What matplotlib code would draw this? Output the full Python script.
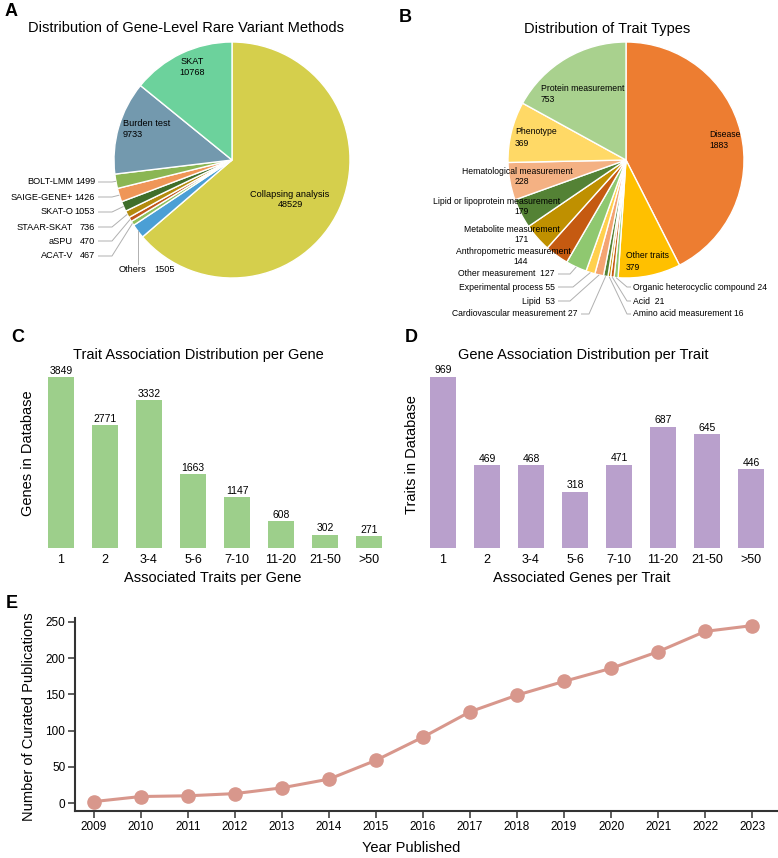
import numpy as np
import matplotlib
matplotlib.use("Agg")
import matplotlib.pyplot as plt

plt.rcParams['font.family'] = ['Liberation Sans', 'DejaVu Sans']

# ---- data ----
method_names = ["Collapsing analysis", "Others", "ACAT-V", "aSPU", "STAAR-SKAT",
                "SKAT-O", "SAIGE-GENE+", "BOLT-LMM", "Burden test", "SKAT"]
method_counts = [48529, 1505, 467, 470, 736, 1053, 1426, 1499, 9733, 10768]

trait_names = ["Disease", "Other traits", "Organic heterocyclic compound", "Acid",
               "Amino acid measurement", "Cardiovascular measurement", "Lipid",
               "Experimental process", "Other measurement", "Anthropometric measurement",
               "Metabolite measurement", "Lipid or lipoprotein measurement",
               "Hematological measurement", "Phenotype", "Protein measurement"]
trait_counts = [1883, 379, 24, 21, 16, 27, 53, 55, 127, 144, 171, 179, 228, 369, 753]

bin_labels = ["1", "2", "3-4", "5-6", "7-10", "11-20", "21-50", ">50"]
genes_per_bin = [3849, 2771, 3332, 1663, 1147, 608, 302, 271]
traits_per_bin = [969, 469, 468, 318, 471, 687, 645, 446]

years = [2009, 2010, 2011, 2012, 2013, 2014, 2015, 2016, 2017, 2018, 2019, 2020, 2021, 2022, 2023]
publications = [2, 9, 10, 13, 21, 33, 59, 91, 126, 149, 168, 186, 209, 237, 245]

# ---- styles ----
method_colors = ['#d5cf4c', '#4b9fd5', '#8fbf5c', '#c0561a', '#b38b0e',
                 '#3f6e2b', '#ef9658', '#8bb653', '#7399ae', '#6cd29c']
trait_colors = ['#ed7d31', '#ffc000', '#8fc870', '#c55a11', '#bf9000',
                '#548235', '#f4a472', '#ffd04d', '#8fc870', '#c55a11',
                '#bf9000', '#548235', '#f4b183', '#ffd966', '#a9d18e']
gene_color = '#9dcf8b'
trait_bar_color = '#b9a0cc'
line_color = '#d8978c'
leader_color = '#b0b0b0'

W, H = 778, 858
fig = plt.figure(figsize=(W / 100, H / 100), dpi=100)


def px_axes(x0, y0, x1, y1):
    # box in pixels, origin top-left
    return fig.add_axes([x0 / W, 1 - y1 / H, (x1 - x0) / W, (y1 - y0) / H])


def fig_text(x, y, s, **kw):
    fig.text(x / W, 1 - y / H, s, **kw)


def draw_pie(box, center, radius, counts, colors):
    x0, y0, x1, y1 = box
    cx, cy = center
    ax = px_axes(*box)
    wedges, _ = ax.pie(counts, colors=colors, startangle=90, counterclock=False,
                       wedgeprops=dict(edgecolor='white', linewidth=1))
    ax.set_xlim((x0 - cx) / radius, (x1 - cx) / radius)
    ax.set_ylim((cy - y1) / radius, (cy - y0) / radius)
    ax.set_aspect('auto')
    ax.axis('off')

    def to_data(px, py):
        return (px - cx) / radius, (cy - py) / radius
    return ax, wedges, to_data


def edge_point(w):
    t = np.deg2rad((w.theta1 + w.theta2) / 2)
    return np.cos(t) * w.r, np.sin(t) * w.r


def leader(ax, to_data, start_px, knee_px, w):
    sx, sy = to_data(*start_px)
    kx, ky = to_data(*knee_px)
    ex, ey = edge_point(w)
    ax.plot([sx, kx, ex], [sy, ky, ey], color=leader_color, lw=0.7, solid_capstyle='butt')


# ---------------- panel A ----------------
axA, wA, pA = draw_pie((0, 35, 390, 320), (232, 160), 118, method_counts, method_colors)
fsA = 6.6
axA.text(*pA(192, 67), f"{method_names[9]}\n{method_counts[9]}", ha='center', va='center', fontsize=fsA)
axA.text(*pA(123, 129), f"{method_names[8]}\n{method_counts[8]}", ha='left', va='center', fontsize=fsA)
axA.text(*pA(290, 199.5), f"{method_names[0]}\n{method_counts[0]}", ha='center', va='center', fontsize=fsA)

rows_A = [(7, 182), (6, 197), (5, 212), (4, 227), (3, 241), (2, 256)]
for i, y in rows_A:
    axA.text(*pA(73, y), method_names[i], ha='right', va='center', fontsize=fsA)
    axA.text(*pA(95, y), str(method_counts[i]), ha='right', va='center', fontsize=fsA)
    leader(axA, pA, (98, y), (112, y), wA[i])
# Others, below the pie
axA.text(*pA(146, 270), method_names[1], ha='right', va='center', fontsize=fsA)
axA.text(*pA(154, 270), str(method_counts[1]), ha='left', va='center', fontsize=fsA)
ex, ey = edge_point(wA[1])
axA.plot([ex, ex], [pA(0, 264)[1], ey], color=leader_color, lw=0.7)

fig_text(186, 28, "Distribution of Gene-Level Rare Variant Methods", ha='center', va='center', fontsize=10.5)
fig_text(11, 12, "A", ha='center', va='center', fontsize=13, fontweight='bold')

# ---------------- panel B ----------------
axB, wB, pB = draw_pie((390, 35, 778, 320), (626, 160), 118, trait_counts, trait_colors)
fsB = 6.2
# left aligned inner labels
for i, (x, y) in [(14, (541, 94)), (0, (709, 140)), (13, (515, 137.5)), (1, (626, 261.5))]:
    axB.text(*pB(x, y), f"{trait_names[i]}\n{trait_counts[i]}", ha='left', va='center',
             fontsize=fsB, linespacing=1.35)
# name / number placed separately
for i, name_xy, num_xy in [(12, (517, 172), (522, 182)), (11, (497, 202), (522, 211.5)),
                           (10, (512, 229), (522, 239)), (9, (513, 251), (521, 261))]:
    axB.text(*pB(*name_xy), trait_names[i], ha='center', va='center', fontsize=fsB)
    axB.text(*pB(*num_xy), str(trait_counts[i]), ha='center', va='center', fontsize=fsB)

gaps = {8: "  ", 6: "  ", 3: "  "}
rows_B_left = [(8, 555, 274, 570), (7, 555, 287, 573), (6, 555, 301, 570), (5, 578, 314, 589)]
for i, x, y, knee in rows_B_left:
    axB.text(*pB(x, y), f"{trait_names[i]}{gaps.get(i, ' ')}{trait_counts[i]}",
             ha='right', va='center', fontsize=fsB)
    leader(axB, pB, (x + 3, y), (knee, y), wB[i])
for i, y in [(2, 287), (3, 301), (4, 314)]:
    axB.text(*pB(633, y), f"{trait_names[i]}{gaps.get(i, ' ')}{trait_counts[i]}",
             ha='left', va='center', fontsize=fsB)
    leader(axB, pB, (631, y), (627, y), wB[i])

fig_text(607, 29, "Distribution of Trait Types", ha='center', va='center', fontsize=10.5)
fig_text(405, 17, "B", ha='center', va='center', fontsize=13, fontweight='bold')


# ---------------- panels C and D ----------------
def draw_bars(box, values, color, ymax):
    ax = px_axes(*box)
    x = np.arange(len(values))
    bars = ax.bar(x, values, width=0.6, color=color)
    ax.set_xlim(-0.5, len(values) - 0.5)
    ax.set_ylim(0, ymax)
    ax.set_xticks(x, bin_labels)
    ax.tick_params(axis='x', length=0, pad=4, labelsize=9)
    ax.set_yticks([])
    for s in ax.spines.values():
        s.set_visible(False)
    ax.bar_label(bars, padding=1, fontsize=7.5)
    return ax


draw_bars((39, 366, 391, 548), genes_per_bin, gene_color, 4100)
fig_text(198, 355, "Trait Association Distribution per Gene", ha='center', va='center', fontsize=10.5)
fig_text(213, 578, "Associated Traits per Gene", ha='center', va='center', fontsize=10.5)
fig_text(28, 453, "Genes in Database", ha='center', va='center', rotation=90, fontsize=10.5)
fig_text(18, 338, "C", ha='center', va='center', fontsize=13, fontweight='bold')

draw_bars((421, 366, 773, 548), traits_per_bin, trait_bar_color, 1030)
fig_text(583, 355, "Gene Association Distribution per Trait", ha='center', va='center', fontsize=10.5)
fig_text(582, 578, "Associated Genes per Trait", ha='center', va='center', fontsize=10.5)
fig_text(412, 455, "Traits in Database", ha='center', va='center', rotation=90, fontsize=10.5)
fig_text(411, 337, "D", ha='center', va='center', fontsize=13, fontweight='bold')

# ---------------- panel E ----------------
axE = px_axes(75, 618, 778, 811)
axE.plot(years, publications, color=line_color, lw=2.2, marker='o', ms=9.5, clip_on=False)
axE.set_xlim(2008.6, 2023.55)
axE.set_ylim(-11, 255.5)
axE.set_xticks(years)
axE.set_yticks(range(0, 251, 50))
for side in ['top', 'right']:
    axE.spines[side].set_visible(False)
for side in ['left', 'bottom']:
    axE.spines[side].set_linewidth(1.5)
    axE.spines[side].set_color('#333333')
axE.tick_params(length=5, width=1.1, color='#333333', pad=2, labelsize=8.5)
fig_text(29, 717, "Number of Curated Publications", ha='center', va='center', rotation=90, fontsize=10.5)
fig_text(411, 848, "Year Published", ha='center', va='center', fontsize=10.5)
fig_text(12, 603, "E", ha='center', va='center', fontsize=13, fontweight='bold')

fig.savefig("out.png", dpi=100)
